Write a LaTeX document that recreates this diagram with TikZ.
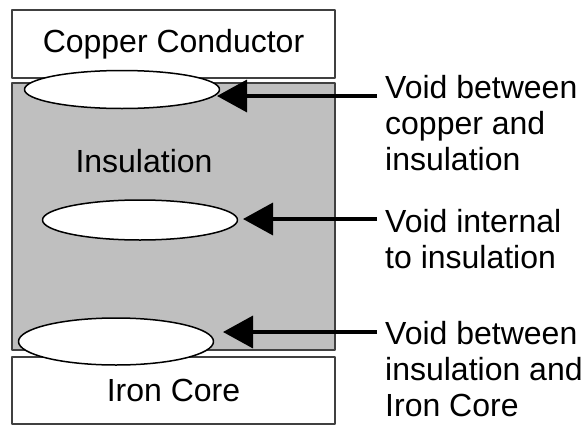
\documentclass[tikz,border=0pt]{standalone}
\usepackage{fontspec}
\setmainfont{Liberation Sans}
\usetikzlibrary{arrows.meta,shapes.geometric}
\begin{document}
\begin{tikzpicture}[x=1pt,y=-1pt,line join=round,
	every node/.style={font=\fontsize{32}{36}\selectfont},
	layer/.style={draw=black!75,line width=2pt,minimum width=323pt,inner sep=0pt},
	void/.style={ellipse,draw=black,line width=1.5pt,fill=white,minimum width=195pt,inner sep=0pt},
	pointer/.style={-{Triangle[length=30pt,width=32pt]},line width=3.5pt},
	label/.style={anchor=base west,align=left,inner sep=0pt}]
	\useasboundingbox (0,0) rectangle (584,426);
	% layers
	\node[layer,fill=black!25,minimum height=267pt] (ins) at (173.5,216.5) {};
	\node[layer,minimum height=68pt] (cu) at (173.5,44) {Copper Conductor};
	\node[layer,minimum height=67pt] (fe) at (173.5,390.5) {Iron Core};
	\node (inslab) at (144,161.5) {Insulation};
	% voids
	\node[void,minimum height=38pt] (vtop) at (122,89.5) {};
	\node[void,minimum height=40pt] (vmid) at (140,220) {};
	\node[void,minimum height=47pt] (vbot) at (116,341.5) {};
	% labels (base = last line)
	\node[label] (labtop) at (385,170) {Void between\\copper and\\insulation};
	\node[label] (labmid) at (385,268) {Void internal\\to insulation};
	\node[label] (labbot) at (385,416) {Void between\\insulation and\\Iron Core};
	% pointers
	\path
	(377,96) coordinate (tailtop)
	(217,96) coordinate (tiptop)
	(377,219) coordinate (tailmid)
	(243,219) coordinate (tipmid)
	(377,332) coordinate (tailbot)
	(223,332) coordinate (tipbot);
	\foreach \p in {top,mid,bot}{
		\draw[pointer] (tail\p) -- (tip\p);
	}
\end{tikzpicture}
\end{document}
